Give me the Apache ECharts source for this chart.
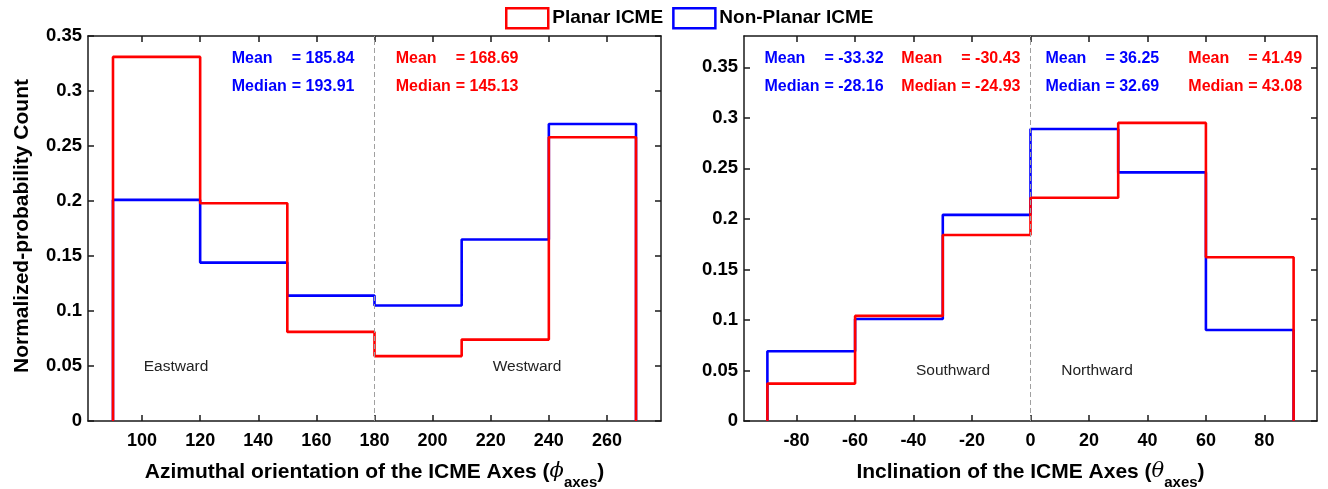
<!DOCTYPE html>
<html>
<head>
<meta charset="utf-8">
<script src="https://cdn.jsdelivr.net/npm/echarts@6/dist/echarts.min.js"></script>
<style>
html, body { margin: 0; padding: 0; background: #fff; }
#chart { width: 1328px; height: 489px; }
</style>
</head>
<body>
<div id="chart"></div>
<script>
// histogram bin edges and normalized counts
const phiEdges = [90, 120, 150, 180, 210, 240, 270];
const phiPlanar = [0.331, 0.198, 0.081, 0.059, 0.074, 0.258];
const phiNonPlanar = [0.201, 0.144, 0.114, 0.105, 0.165, 0.270];
const thetaEdges = [-90, -60, -30, 0, 30, 60, 90];
const thetaPlanar = [0.037, 0.104, 0.184, 0.221, 0.295, 0.162];
const thetaNonPlanar = [0.069, 0.101, 0.204, 0.289, 0.246, 0.090];

// tick labels
const phiTicks = [100, 120, 140, 160, 180, 200, 220, 240, 260];
const thetaTicks = [-80, -60, -40, -20, 0, 20, 40, 60, 80];
const yTicks = [0, 0.05, 0.1, 0.15, 0.2, 0.25, 0.3, 0.35];

// [mean, median] printed in the panels
const phiNonPlanarStats = [185.84, 193.91];
const phiPlanarStats = [168.69, 145.13];
const thetaSouthNonPlanarStats = [-33.32, -28.16];
const thetaSouthPlanarStats = [-30.43, -24.93];
const thetaNorthNonPlanarStats = [36.25, 32.69];
const thetaNorthPlanarStats = [41.49, 43.08];

const RED = '#ff0000', BLUE = '#0000ff', AXIS = '#1a1a1a';
const FONT = '"Liberation Sans", Arial, Helvetica, sans-serif';

// outline of a histogram drawn as stairs
function stairs(edges, h) {
    const pts = [[edges[0], 0]];
    h.forEach((v, i) => { pts.push([edges[i], v], [edges[i + 1], v]); });
    pts.push([edges[edges.length - 1], 0]);
    return pts;
}

function xAxis(grid, min, max, ticks, top) {
    return {
        type: 'value', gridIndex: grid, min: min, max: max, position: top ? 'top' : 'bottom',
        axisLine: { show: true, onZero: false, lineStyle: { color: AXIS, width: 1.5 } },
        axisTick: { show: true, inside: true, length: 6, customValues: ticks, lineStyle: { color: AXIS, width: 1.5 } },
        axisLabel: { show: !top, customValues: ticks, margin: 11, color: '#000', fontSize: 18, fontWeight: 'bold', fontFamily: FONT },
        splitLine: { show: false }
    };
}
function yAxis(grid, max, right) {
    return {
        type: 'value', gridIndex: grid, min: 0, max: max, position: right ? 'right' : 'left',
        axisLine: { show: true, onZero: false, lineStyle: { color: AXIS, width: 1.5 } },
        axisTick: { show: true, inside: true, length: 6, customValues: yTicks, lineStyle: { color: AXIS, width: 1.5 } },
        axisLabel: { show: !right, customValues: yTicks, margin: 6, color: '#000', fontSize: 18.5, fontWeight: 'bold', fontFamily: FONT,
            formatter: v => String(+(+v).toFixed(2)) },
        splitLine: { show: false }
    };
}
function stairSeries(name, color, edges, h, axis, divider) {
    const s = {
        name: name, type: 'line', xAxisIndex: axis, yAxisIndex: axis,
        data: stairs(edges, h), showSymbol: false, symbol: 'none',
        lineStyle: { color: color, width: 2.6 }, itemStyle: { color: color },
        z: color === RED ? 3 : 2, silent: true
    };
    if (divider !== undefined) {
        s.markLine = {
            silent: true, symbol: ['none', 'none'], label: { show: false },
            lineStyle: { color: '#a0a0a0', type: [5, 3], width: 1 },
            data: [{ xAxis: divider }]
        };
    }
    return s;
}
function statText(x, color, stats) {
    const rich = {
        k: { width: 60, fontSize: 16, fontWeight: 'bold', fill: color, fontFamily: FONT },
        v: { fontSize: 16, fontWeight: 'bold', fill: color, fontFamily: FONT }
    };
    return [
        { type: 'text', x: x, y: 59, style: { text: '{k|Mean}{v|= ' + stats[0].toFixed(2) + '}', rich: rich, verticalAlign: 'middle' } },
        { type: 'text', x: x, y: 87, style: { text: '{k|Median}{v|= ' + stats[1].toFixed(2) + '}', rich: rich, verticalAlign: 'middle' } }
    ];
}
function plainText(x, y, txt) {
    return { type: 'text', x: x, y: y, style: { text: txt, fontSize: 15.5, fill: '#222', fontFamily: FONT, align: 'center', verticalAlign: 'middle' } };
}
const titleRich = {
    b: { fontSize: 21, fontWeight: 'bold', fill: '#000', fontFamily: FONT },
    i: { fontSize: 21, fontStyle: 'italic', fill: '#000', fontFamily: '"DejaVu Serif", serif' },
    s: { fontSize: 15, fontWeight: 'bold', fill: '#000', fontFamily: FONT, padding: [22, 0, 0, 0] }
};

const chart = echarts.init(document.getElementById('chart'), null, { renderer: 'canvas' });
chart.setOption({
    animation: false,
    backgroundColor: '#fff',
    grid: [
        { left: 88, top: 36, width: 573, height: 385 },
        { left: 744, top: 36, width: 573, height: 385 }
    ],
    legend: {
        left: 505, top: 7, padding: 0, itemWidth: 42, itemHeight: 20, itemGap: 9, icon: 'rect', selectedMode: false,
        textStyle: { fontSize: 19, fontWeight: 'bold', color: '#000', fontFamily: FONT, padding: [0, 0, 0, -1] },
        data: [
            { name: 'Planar ICME', itemStyle: { color: '#fff', borderColor: RED, borderWidth: 2.5 } },
            { name: 'Non-Planar ICME', itemStyle: { color: '#fff', borderColor: BLUE, borderWidth: 2.5 } }
        ]
    },
    xAxis: [
        xAxis(0, 81.4, 278.6, phiTicks, false),
        xAxis(0, 81.4, 278.6, phiTicks, true),
        xAxis(1, -98, 98, thetaTicks, false),
        xAxis(1, -98, 98, thetaTicks, true)
    ],
    yAxis: [
        yAxis(0, 0.35, false),
        yAxis(0, 0.35, true),
        yAxis(1, 0.381, false),
        yAxis(1, 0.381, true)
    ],
    series: [
        stairSeries('Non-Planar ICME', BLUE, phiEdges, phiNonPlanar, 0, 180),
        stairSeries('Planar ICME', RED, phiEdges, phiPlanar, 0),
        stairSeries('Non-Planar ICME', BLUE, thetaEdges, thetaNonPlanar, 2, 0),
        stairSeries('Planar ICME', RED, thetaEdges, thetaPlanar, 2)
    ],
    graphic: [
        ...statText(231.7, BLUE, phiNonPlanarStats),
        ...statText(395.7, RED, phiPlanarStats),
        ...statText(764.4, BLUE, thetaSouthNonPlanarStats),
        ...statText(901.3, RED, thetaSouthPlanarStats),
        ...statText(1045.4, BLUE, thetaNorthNonPlanarStats),
        ...statText(1188.3, RED, thetaNorthPlanarStats),
        plainText(176, 367, 'Eastward'),
        plainText(527, 367, 'Westward'),
        plainText(953, 371, 'Southward'),
        plainText(1097, 371, 'Northward'),
        { type: 'text', x: 374.5, y: 472, style: { text: '{b|Azimuthal orientation of the ICME Axes (}{i|ϕ}{s|axes}{b|)}', rich: titleRich, align: 'center', verticalAlign: 'middle' } },
        { type: 'text', x: 1030.5, y: 472, style: { text: '{b|Inclination of the ICME Axes (}{i|θ}{s|axes}{b|)}', rich: titleRich, align: 'center', verticalAlign: 'middle' } },
        { type: 'text', x: 22, y: 226, rotation: Math.PI / 2, style: { text: 'Normalized-probability Count', fontSize: 21, fontWeight: 'bold', fill: '#000', fontFamily: FONT, align: 'center', verticalAlign: 'middle' } }
    ]
});
</script>
</body>
</html>
